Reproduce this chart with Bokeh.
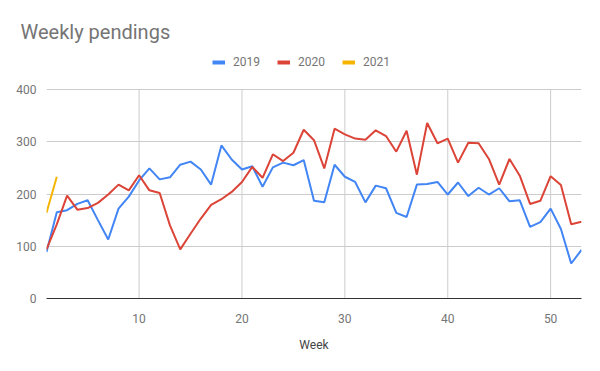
from bokeh.plotting import figure
from bokeh.models import Range1d, FixedTicker, Legend, LegendItem
from bokeh.embed import file_html
from bokeh.resources import INLINE

weeks = list(range(1, 54))
y2019 = [89, 165, 169, 181, 188, 150, 113, 172, 195, 226, 249, 228, 232, 256, 262, 247, 218, 293, 266,
         247, 253, 214, 251, 260, 255, 265, 187, 184, 256, 233, 223, 184, 216, 211, 164, 156, 218, 219,
         223, 199, 222, 196, 212, 199, 211, 186, 188, 137, 146, 172, 133, 67, 93]
y2020 = [94, 142, 197, 170, 173, 183, 199, 218, 207, 236, 207, 202, 140, 94, 124, 153, 179, 190, 204,
         223, 252, 231, 276, 263, 279, 323, 303, 249, 325, 314, 306, 304, 322, 311, 281, 321, 237, 336,
         297, 306, 260, 298, 297, 267, 218, 267, 235, 181, 187, 234, 217, 142, 147]
weeks2021 = [1, 2]
y2021 = [164, 233]
series_names = ["2019", "2020", "2021"]
colors = ["#4285F4", "#DB4437", "#F4B400"]
x_ticks = [10, 20, 30, 40, 50]
y_ticks = [0, 100, 200, 300, 400]
y_max = 400

FONT = "Roboto"
GRAY = "#757575"

TOP = 48          # frame top (px)
BOTTOM = 298      # frame bottom (px), where y = 0
PX_PER_400 = 209  # pixel height of 0..400
H = 371

p = figure(width=600, height=H, output_backend="svg", toolbar_location=None,
           x_range=Range1d(1, 53),
           y_range=Range1d(0, y_max * (BOTTOM - TOP) / PX_PER_400),
           title="Weekly pendings")
p.min_border_left = 46
p.min_border_right = 19
p.min_border_top = TOP
p.min_border_bottom = H - BOTTOM
p.outline_line_color = None
p.background_fill_color = "white"
p.border_fill_color = "white"

p.title.text_font = FONT
p.title.text_font_size = "20px"
p.title.text_font_style = "normal"
p.title.text_color = GRAY
p.title.align = "left"
p.title.offset = -26

# grids
p.xgrid.visible = False
p.ygrid.ticker = FixedTicker(ticks=y_ticks)
p.ygrid.grid_line_color = "#cccccc"
p.segment(x0=x_ticks, y0=[0] * len(x_ticks), x1=x_ticks, y1=[y_max] * len(x_ticks),
          line_color="#cccccc", line_width=1)

# axes
p.xaxis.ticker = FixedTicker(ticks=x_ticks)
p.yaxis.ticker = FixedTicker(ticks=y_ticks)
for ax in (p.xaxis[0], p.yaxis[0]):
    ax.major_tick_line_color = None
    ax.minor_tick_line_color = None
    ax.major_label_text_font = FONT
    ax.major_label_text_font_size = "12px"
    ax.major_label_text_color = GRAY
p.yaxis.axis_line_color = None
p.yaxis.major_label_standoff = 4
p.xaxis.axis_line_color = "#333333"
p.xaxis.axis_line_width = 1
p.xaxis.major_label_standoff = 9
p.xaxis.axis_label = "Week"
p.xaxis.axis_label_text_font = FONT
p.xaxis.axis_label_text_font_size = "12px"
p.xaxis.axis_label_text_font_style = "normal"
p.xaxis.axis_label_text_color = "#444444"
p.xaxis.axis_label_standoff = 12

# data lines
p.line(weeks, y2019, line_color=colors[0], line_width=2)
p.line(weeks, y2020, line_color=colors[1], line_width=2)
p.line(weeks2021, y2021, line_color=colors[2], line_width=2)

# legend-only swatches (a single undefined point, so nothing shows in the plot)
items = []
for name, c in zip(series_names, colors):
    r = p.line(x=weeks[:1], y=[float("nan")], line_color=c, line_width=4)
    items.append(LegendItem(label=name, renderers=[r]))
legend = Legend(items=items, orientation="horizontal", location=(166, BOTTOM - 69),
                glyph_width=13, glyph_height=14, label_standoff=8, spacing=17,
                padding=0, margin=0, border_line_color=None, background_fill_alpha=0,
                label_text_font=FONT, label_text_font_size="12px", label_text_color=GRAY)
p.add_layout(legend, "center")

open("out.html", "w").write(file_html(p, INLINE))
